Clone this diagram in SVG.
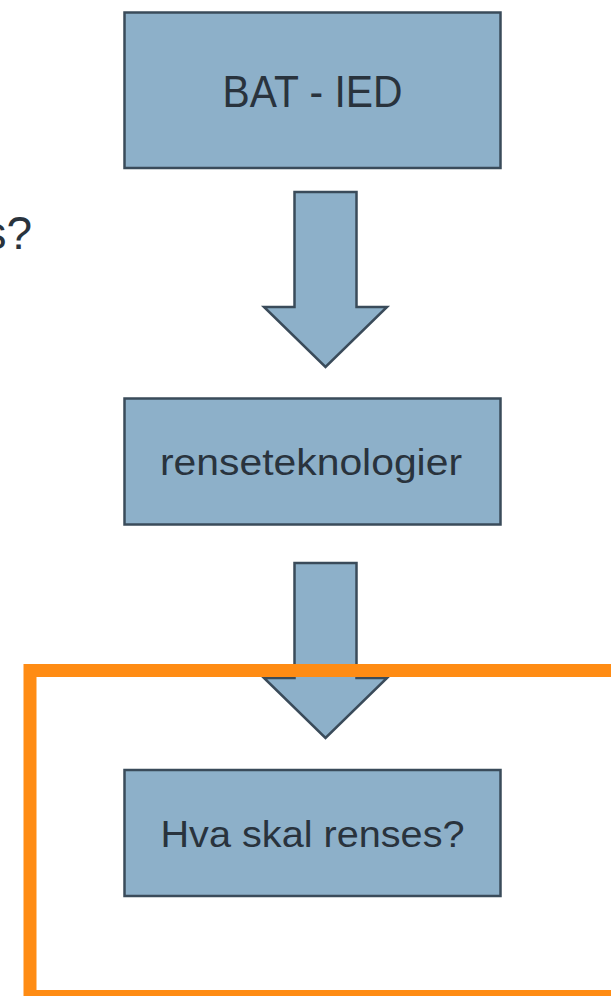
<svg xmlns="http://www.w3.org/2000/svg" width="611" height="996" viewBox="0 0 611 996">
<style>
.box{fill:#8DB0C9;stroke:#3A4B5A;stroke-width:2.5}
.arr{fill:#8DB0C9;stroke:#3A4B5A;stroke-width:2.5;stroke-linejoin:miter}
.t{font-family:"Liberation Sans","Open Sans",sans-serif;fill:#29333D;text-anchor:middle}
</style>
<rect width="611" height="996" fill="#FFFFFF"/>
<text class="t" x="32" y="249" font-size="46" style="text-anchor:end">s?</text>
<g id="bat-ied">
<rect class="box" x="124.5" y="12.5" width="376" height="155.5"/>
<text class="t" x="312.5" y="107" font-size="44" textLength="180" lengthAdjust="spacingAndGlyphs">BAT - IED</text>
</g>
<g id="renseteknologier">
<rect class="box" x="124.5" y="398.5" width="376" height="126"/>
<text class="t" x="311" y="475" font-size="36" textLength="302" lengthAdjust="spacingAndGlyphs">renseteknologier</text>
</g>
<g id="hva-skal-renses">
<rect class="box" x="124.5" y="770" width="376" height="126"/>
<text class="t" x="312.5" y="846.5" font-size="37" textLength="304" lengthAdjust="spacingAndGlyphs">Hva skal renses?</text>
</g>
<g id="connectors">
<path class="arr" d="M294.5 192 H356.5 V307 H387 L325.5 367 L264 307 H294.5 Z"/>
<path class="arr" d="M294.5 563 H356.5 V678 H387 L325.5 738 L264 678 H294.5 Z"/>
</g>
<rect id="highlight" x="30" y="670.5" width="620" height="326" fill="none" stroke="#FF8C14" stroke-width="13"/>
</svg>
